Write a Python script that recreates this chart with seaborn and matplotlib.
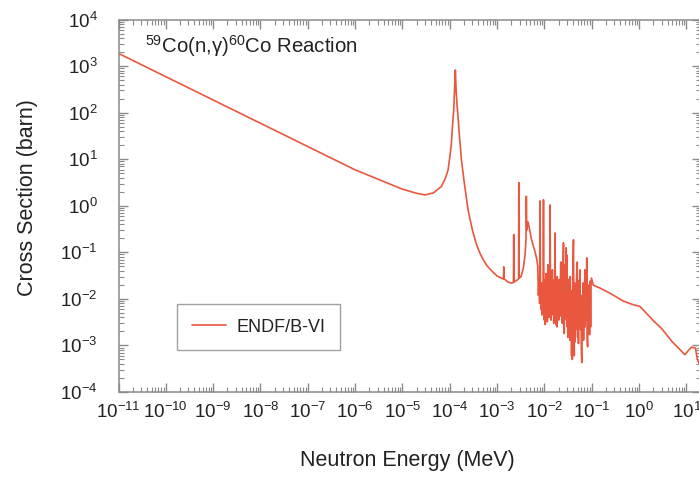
import numpy as np
import pandas as pd
import matplotlib
matplotlib.use('Agg')
import matplotlib.pyplot as plt
from matplotlib.ticker import LogLocator, NullFormatter
import seaborn as sns

# 59Co(n,g) cross section: energy in MeV, cross section in barn
# 1/v region and the 132 eV resonance
energy_low = [1e-11, 1e-8, 1e-6, 3.3e-6, 1.0e-5, 2.0e-5, 3.0e-5, 4.5e-5, 6.6e-5,
              8.0e-5, 9.2e-5, 1.02e-4, 1.08e-4, 1.15e-4, 1.21e-4, 1.27e-4, 1.31e-4,
              1.36e-4, 1.42e-4, 1.49e-4, 1.6e-4, 1.76e-4, 2.0e-4, 2.43e-4, 3.0e-4,
              3.65e-4, 4.3e-4, 5.0e-4, 6.0e-4, 7.0e-4, 8.5e-4, 1.0e-3]
xs_low = [1870, 59, 5.9, 3.6, 2.27, 1.85, 1.71, 1.89, 2.58,
          3.8, 5.9, 13, 22, 60, 114, 410, 825,
          300, 150, 82, 31, 9.7, 3.4, 0.82, 0.30,
          0.15, 0.097, 0.072, 0.053, 0.044, 0.036, 0.031]

# first isolated resonances (1 - 7 keV)
energy_mid = [1.3e-3, 1.36e-3, 1.38e-3, 1.40e-3, 1.7e-3, 2.0e-3, 2.21e-3, 2.24e-3,
              2.27e-3, 2.6e-3, 2.84e-3, 2.87e-3, 2.91e-3, 3.2e-3, 3.6e-3, 3.9e-3,
              4.08e-3, 4.14e-3, 4.22e-3, 4.5e-3, 4.8e-3, 5.3e-3, 6.2e-3, 6.8e-3]
xs_mid = [0.027, 0.027, 0.049, 0.027, 0.023, 0.0218, 0.0225, 0.24,
          0.023, 0.025, 0.027, 3.15, 0.028, 0.030, 0.048, 0.09,
          0.2, 1.6, 0.3, 0.45, 0.33, 0.19, 0.11, 0.075]

# dense resolved resonance region (7 keV - 100 keV)
energy_res = [7.21e-3, 7.45e-3, 7.70e-3, 7.90e-3, 8.07e-3, 8.25e-3, 8.45e-3, 8.62e-3,
              8.80e-3, 9.05e-3, 9.30e-3, 9.53e-3, 9.75e-3, 9.95e-3, 1.02e-2, 1.04e-2,
              1.07e-2, 1.09e-2, 1.12e-2, 1.15e-2, 1.18e-2, 1.20e-2, 1.23e-2, 1.26e-2,
              1.29e-2, 1.31e-2, 1.34e-2, 1.37e-2, 1.40e-2, 1.43e-2, 1.47e-2, 1.50e-2,
              1.54e-2, 1.57e-2, 1.61e-2, 1.64e-2, 1.67e-2, 1.70e-2, 1.74e-2, 1.78e-2,
              1.82e-2, 1.86e-2, 1.91e-2, 1.95e-2, 2.00e-2, 2.05e-2, 2.10e-2, 2.15e-2,
              2.21e-2, 2.26e-2, 2.32e-2, 2.38e-2, 2.45e-2, 2.52e-2, 2.57e-2, 2.62e-2,
              2.68e-2, 2.75e-2, 2.80e-2, 2.86e-2, 2.92e-2, 2.96e-2, 3.02e-2, 3.08e-2,
              3.13e-2, 3.20e-2, 3.27e-2, 3.34e-2, 3.43e-2, 3.50e-2, 3.58e-2, 3.66e-2,
              3.74e-2, 3.80e-2, 3.88e-2, 3.96e-2, 4.10e-2, 4.18e-2, 4.26e-2, 4.35e-2,
              4.45e-2, 4.55e-2, 4.65e-2, 4.76e-2, 4.93e-2, 5.02e-2, 5.12e-2, 5.23e-2,
              5.35e-2, 5.45e-2, 5.55e-2, 5.66e-2, 5.78e-2, 5.90e-2, 6.02e-2, 6.15e-2,
              6.28e-2, 6.40e-2, 6.55e-2, 6.70e-2, 6.85e-2, 7.00e-2, 7.11e-2, 7.25e-2,
              7.40e-2, 7.60e-2, 7.83e-2, 8.00e-2, 8.15e-2, 8.35e-2, 8.55e-2, 8.75e-2,
              8.97e-2, 9.20e-2, 9.44e-2, 9.65e-2, 9.86e-2]
xs_res = [0.051, 0.012, 0.030, 0.008, 1.27, 0.014, 0.006, 0.022,
          0.0045, 0.018, 0.006, 1.34, 0.011, 0.0035, 0.025, 0.0028,
          0.035, 0.004, 0.020, 0.0032, 0.054, 0.006, 0.030, 0.004,
          0.015, 1.04, 0.022, 0.0035, 0.028, 0.0045, 0.042, 0.005,
          0.025, 0.003, 0.012, 0.0055, 0.26, 0.012, 0.0028, 0.020,
          0.0025, 0.030, 0.006, 0.018, 0.0035, 0.026, 0.0042, 0.012,
          0.062, 0.006, 0.022, 0.003, 0.030, 0.16, 0.010, 0.0018,
          0.020, 0.054, 0.004, 0.125, 0.0035, 0.088, 0.0025, 0.020,
          0.0015, 0.026, 0.004, 0.016, 0.0013, 0.030, 0.0025, 0.015,
          0.0006, 0.012, 0.0005, 0.033, 0.185, 0.004, 0.0006, 0.022,
          0.0012, 0.016, 0.0022, 0.030, 0.062, 0.0015, 0.018, 0.0011,
          0.025, 0.003, 0.020, 0.042, 0.0022, 0.011, 0.0007, 0.00043,
          0.012, 0.0018, 0.022, 0.0013, 0.014, 0.004, 0.042, 0.0025,
          0.016, 0.0035, 0.076, 0.0015, 0.00094, 0.018, 0.003, 0.020,
          0.0017, 0.024, 0.0025, 0.020, 0.028]

# smooth fast region
energy_fast = [0.107, 0.15, 0.24, 0.46, 0.75, 1.03, 1.22, 2.0, 3.0, 5.0, 7.0,
               9.25, 11.0, 12.8, 15.5, 17.0, 20.0]
xs_fast = [0.0198, 0.017, 0.0133, 0.0090, 0.0075, 0.0069, 0.0058, 0.0034, 0.0023,
           0.0012, 0.00085, 0.00063, 0.00078, 0.00092, 0.00088, 0.0005, 0.00035]

df = pd.DataFrame({
    'energy': energy_low + energy_mid + energy_res + energy_fast,
    'xs': xs_low + xs_mid + xs_res + xs_fast,
})
df['lib'] = 'ENDF/B-VI'

sns.set_style('ticks')
plt.rcParams['font.family'] = ['Liberation Sans', 'DejaVu Sans']
plt.rcParams['mathtext.default'] = 'regular'
plt.rcParams['axes.unicode_minus'] = False

gray = '#8a8a8a'
txt = '#222222'
red = '#e9573f'

fig = plt.figure(figsize=(6.99, 4.78), dpi=100)
ax = fig.add_axes([118.5 / 699, 86 / 478, 582.2 / 699, 372.5 / 478])

sns.lineplot(data=df, x='energy', y='xs', hue='lib', palette=[red],
             estimator=None, sort=False, linewidth=1.2, ax=ax)

ax.set_xscale('log')
ax.set_yscale('log')
ax.set_xlim(1e-11, 20)
ax.set_ylim(1e-4, 1e4)
ax.set_xticks([10.0 ** k for k in range(-11, 2)])
ax.set_yticks([10.0 ** k for k in range(-4, 5)])
for axis in (ax.xaxis, ax.yaxis):
    axis.set_minor_locator(LogLocator(base=10, subs=np.arange(2, 10), numticks=200))
    axis.set_minor_formatter(NullFormatter())

for s in ax.spines.values():
    s.set_color(gray)
    s.set_linewidth(1.1)
ax.tick_params(which='both', direction='in', top=True, right=True, color=gray)
ax.tick_params(which='major', length=6.5, width=1.0)
ax.tick_params(which='minor', length=3.5, width=0.8)
ax.tick_params(axis='x', which='major', labelsize=13.5, pad=7, labelcolor=txt)
ax.tick_params(axis='y', which='major', labelsize=13.5, pad=15, labelcolor=txt)

ax.set_xlabel('Neutron Energy (MeV)', fontsize=15.5, color=txt)
ax.set_ylabel('Cross Section (barn)', fontsize=15.5, color=txt)
ax.xaxis.set_label_coords(0.497, -0.156)
ax.yaxis.set_label_coords(-0.139, 0.523)

ax.text(0.0455, 0.910, r'$^{59}$Co(n,γ)$^{60}$Co Reaction', transform=ax.transAxes,
        fontsize=14.7, color=txt, va='baseline', ha='left')

leg = ax.legend(loc='lower left', bbox_to_anchor=(0.1008, 0.1128), borderaxespad=0,
                fontsize=13, frameon=True, fancybox=False, edgecolor=gray,
                handlelength=1.9, handletextpad=0.6, borderpad=0.8)
leg.get_frame().set_linewidth(1.0)
for t in leg.get_texts():
    t.set_color(txt)
for h in leg.get_lines():
    h.set_linewidth(1.2)

fig.savefig('out.png', dpi=100)
